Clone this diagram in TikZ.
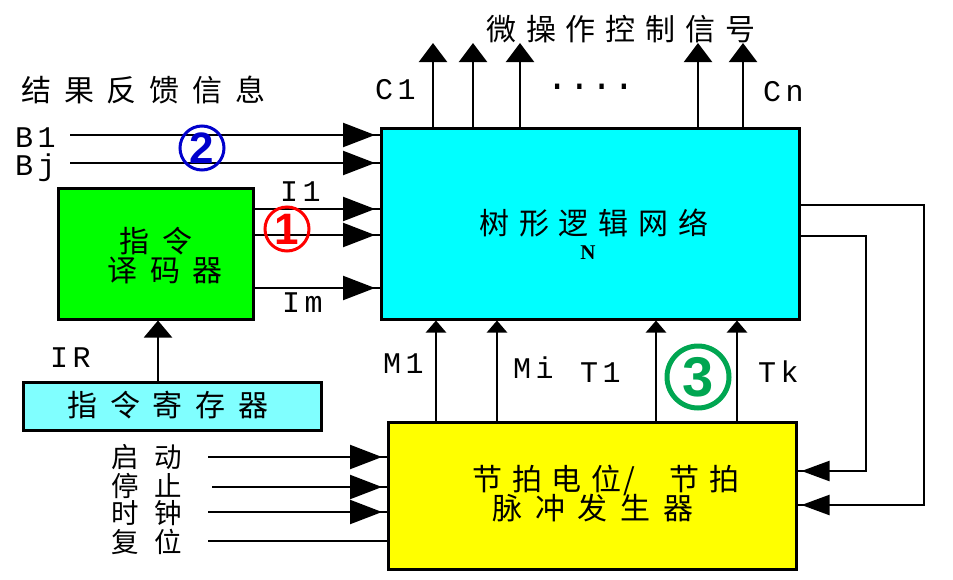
\documentclass[tikz,border=0pt]{standalone}
\usepackage{fontspec}
\usetikzlibrary{arrows.meta,decorations.markings}
\newfontfamily\cjk[LetterSpace=43]{Noto Sans CJK SC}
\newfontfamily\cjkb[LetterSpace=33]{Noto Sans CJK SC}
\newfontfamily\cjks[LetterSpace=56]{Noto Sans CJK SC}
\newfontfamily\lat[LetterSpace=15]{Liberation Mono}
\newfontfamily\latp{Liberation Mono}
\newfontfamily\digitf{Liberation Sans}
\newfontfamily\serifb{Liberation Serif}
\definecolor{cyanbox}{HTML}{00FFFF}
\definecolor{greenbox}{HTML}{00FF00}
\definecolor{irbox}{HTML}{80FFFF}
\definecolor{yellowbox}{HTML}{FFFF00}
\definecolor{cred}{HTML}{FF0000}
\definecolor{cblue}{HTML}{0000CC}
\definecolor{cgreen}{HTML}{00A651}
\tikzset{
  box/.style={draw=black, line width=2.5pt, inner sep=0pt, anchor=north west},
  wire/.style={line width=2.2pt, draw=black},
  bigin/.style={wire, postaction={decorate}, decoration={markings,
      mark=at position -5pt with {\arrow{Triangle[length=32pt,width=24pt]}}}},
  backin/.style={wire, postaction={decorate}, decoration={markings,
      mark=at position -4pt with {\arrow{Triangle[length=28pt,width=20pt]}}}},
  smallup/.style={wire, -{Triangle[length=12pt,width=20pt]}},
  topup/.style={wire, -{Triangle[length=19pt,width=28pt]}},
  irup/.style={wire, -{Triangle[length=17pt,width=28pt]}},
  cj/.style={font=\cjk\fontsize{30}{30}\selectfont, inner sep=0pt, anchor=west},
  cjn/.style={font=\cjkb\fontsize{30}{30}\selectfont, inner sep=0pt, anchor=west},
  cjl/.style={font=\cjks\fontsize{27.5}{27.5}\selectfont, inner sep=0pt, anchor=west},
  lt/.style={font=\lat\fontsize{30}{30}\selectfont, inner sep=0pt, anchor=base west},
  numc/.style={circle, inner sep=0pt, font=\digitf\bfseries\fontsize{44}{44}\selectfont},
}
\begin{document}
\begin{tikzpicture}[x=1pt,y=-1pt]
\useasboundingbox (0,0) rectangle (953,579);
% boxes
\node[box, fill=cyanbox, minimum width=418pt, minimum height=191pt] (N) at (380,127) {};
\node[box, fill=greenbox, minimum width=195pt, minimum height=131pt] (G) at (57,187) {};
\node[box, fill=irbox, minimum width=298pt, minimum height=48pt] (IR) at (22,381) {};
\node[box, fill=yellowbox, minimum width=408pt, minimum height=147pt] (Y) at (387,421) {};
% box texts
\node[cjn] (tN) at (479,223) {树形逻辑网络};
\node[font=\serifb\bfseries\fontsize{21}{21}\selectfont, inner sep=0pt] (tNN) at (588,253) {N};
\node[cj] (tG1) at (119,241) {指令};
\node[cj] (tG2) at (107,270) {译码器};
\node[cj] (tIR) at (67,405) {指令寄存器};
\node[cjn] (tY1) at (472,480) {节拍电位\hspace{2pt}/\hspace{34pt}节拍};
\node[cj] (tY2) at (492,508) {脉冲发生器};
% top labels
\node[cj] (tfb) at (21,90) {结果反馈信息};
\node[cjn] (tmc) at (486,29) {微操作控制信号};
% free ends
\coordinate (b1s) at (70,135);
\coordinate (bjs) at (70,163);
\coordinate (qd) at (208,457);
\coordinate (tz) at (212,487);
\coordinate (sz) at (208,512);
\coordinate (fw) at (208,541);
\coordinate (topy) at (0,43);
\coordinate (xc1) at (433,0);
\coordinate (xc2) at (473,0);
\coordinate (xc3) at (520,0);
\coordinate (xc4) at (698,0);
\coordinate (xc5) at (743,0);
\coordinate (xm1) at (436,0);
\coordinate (xmi) at (497,0);
\coordinate (xt1) at (656,0);
\coordinate (xtk) at (737,0);
\coordinate (xir) at (158,0);
\coordinate (yi1) at (0,209);
\coordinate (yi2) at (0,235);
\coordinate (yim) at (0,288);
\coordinate (fa) at (866,236);
\coordinate (fb) at (866,471);
\coordinate (fc) at (924,205);
\coordinate (fd) at (924,505);
% left inputs to N
\draw[bigin] (b1s) -- (b1s -| N.west);
\draw[bigin] (bjs) -- (bjs -| N.west);
\draw[bigin] (yi1 -| G.east) -- (yi1 -| N.west);
\draw[bigin] (yi2 -| G.east) -- (yi2 -| N.west);
\draw[bigin] (yim -| G.east) -- (yim -| N.west);
% inputs to Y
\draw[bigin] (qd) -- (qd -| Y.west);
\draw[bigin] (tz) -- (tz -| Y.west);
\draw[bigin] (sz) -- (sz -| Y.west);
\draw[wire] (fw) -- (fw -| Y.west);
% top outputs
\foreach \c in {xc1,xc2,xc3,xc4,xc5}{
  \draw[topup] (\c |- N.north) -- (\c |- topy);
}
% Y to N
\foreach \c in {xm1,xmi,xt1,xtk}{
  \draw[smallup] (\c |- Y.north) -- (\c |- N.south);
}
% IR to G
\draw[irup] (xir |- IR.north) -- (xir |- G.south);
% feedback
\draw[backin] (fa -| N.east) -- (fa) -- (fb) -- (fb -| Y.east);
\draw[backin] (fc -| N.east) -- (fc) -- (fd) -- (fd -| Y.east);
% latin labels
\node[lt] (lC1) at (375,99) {C1};
\node[lt] (lCn) at (763,101) {Cn};
\node[lt] (lB1) at (15,147) {B1};
\node[lt] (lBj) at (15,175) {Bj};
\node[lt] (lI1) at (280,201) {I1};
\node[lt] (lIm) at (282,312) {Im};
\node[lt] (lIR) at (50,367) {IR};
\node[lt] (lM1) at (383,373) {M1};
\node[lt] (lMi) at (513,378) {Mi};
\node[lt] (lT1) at (580,382) {T1};
\node[lt] (lTk) at (758,382) {Tk};
\node[font=\latp\fontsize{37}{37}\selectfont, inner sep=0pt, anchor=base west] (dots) at (546,89) {....};
% left bottom labels
\node[cjl] (l1) at (111,457) {启动};
\node[cjl] (l2) at (111,486) {停止};
\node[cjl] (l3) at (111,513) {时钟};
\node[cjl] (l4) at (111,542) {复位};
% circled numbers
\node[numc, draw=cred, line width=3pt, text=cred, minimum size=44pt] (n1) at (287,229) {1};
\node[numc, draw=cblue, line width=3pt, text=cblue, minimum size=44pt] (n2) at (202,148) {2};
\node[numc, draw=cgreen, line width=5pt, text=cgreen, minimum size=62pt, font=\digitf\bfseries\fontsize{56}{56}\selectfont] (n3) at (698,377) {3};
\end{tikzpicture}
\end{document}
